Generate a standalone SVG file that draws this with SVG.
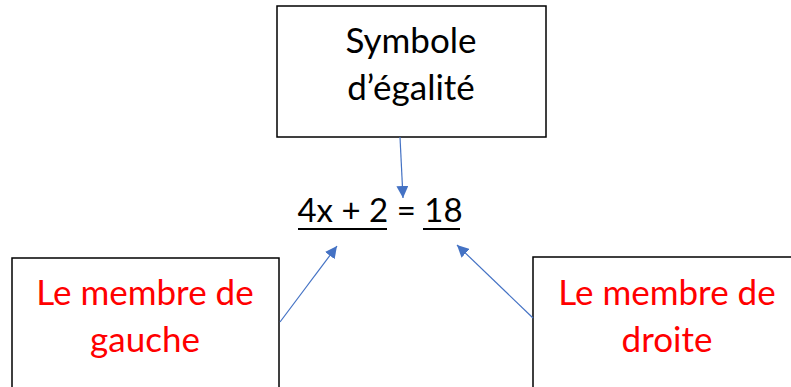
<svg xmlns="http://www.w3.org/2000/svg" width="791" height="387" viewBox="0 0 791 387">
<style>
.box{fill:#fff;stroke:#000;stroke-width:1.5}
.t{font-family:Lato,"Open Sans","Liberation Sans",sans-serif;font-size:35px;text-anchor:middle}
.blk{fill:#000}
.red{fill:#ff0000}
.c{stroke:#4472c4;stroke-width:1.2;fill:none;marker-end:url(#a)}
</style>
<defs>
<marker id="a" viewBox="0 0 10 10" refX="10" refY="5" markerWidth="12" markerHeight="12" markerUnits="userSpaceOnUse" orient="auto">
<path d="M0,0 L10,5 L0,10 z" fill="#4472c4"/>
</marker>
</defs>
<g id="symbole">
<rect class="box" x="277" y="6" width="269" height="131"/>
<text class="t blk" x="411" y="53">Symbole</text>
<text class="t blk" x="411" y="100">d’égalité</text>
</g>
<g id="equation">
<text class="t blk" x="380" y="222" style="font-size:33px">4x + 2 = 18</text>
<line x1="298" y1="229" x2="387" y2="229" stroke="#000" stroke-width="2"/>
<line x1="423" y1="229" x2="460" y2="229" stroke="#000" stroke-width="2"/>
</g>
<g id="gauche">
<rect class="box" x="12" y="258" width="267" height="140"/>
<text class="t red" x="145" y="305">Le membre de</text>
<text class="t red" x="145" y="352">gauche</text>
</g>
<g id="droite">
<rect class="box" x="533" y="257" width="270" height="140"/>
<text class="t red" x="667" y="305">Le membre de</text>
<text class="t red" x="667" y="352">droite</text>
</g>
<g id="connectors">
<line class="c" x1="400" y1="137" x2="403" y2="198"/>
<line class="c" x1="280" y1="322" x2="337" y2="246"/>
<line class="c" x1="533" y1="318" x2="457" y2="245"/>
</g>
</svg>
